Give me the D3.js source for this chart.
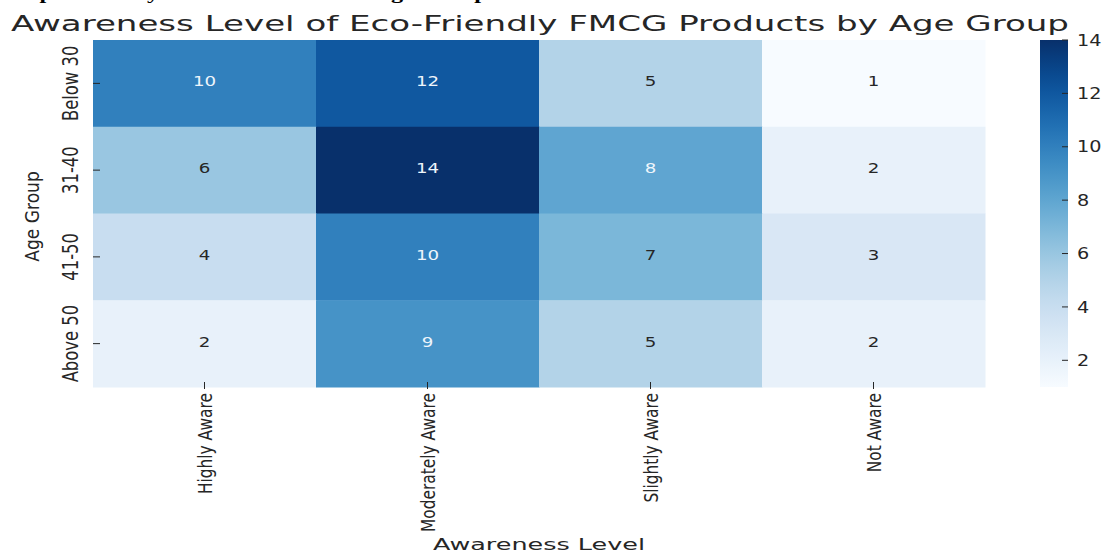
<!DOCTYPE html>
<html>
<head>
<meta charset="utf-8">
<script src="https://cdn.jsdelivr.net/npm/d3@7"></script>
<style>
  html, body { margin: 0; padding: 0; background: #ffffff; }
  svg { display: block; }
</style>
</head>
<body>
<svg id="chart" width="1108" height="554"></svg>
<script>
// ---------------- data ----------------
const ageGroups = ["Below 30", "31-40", "41-50", "Above 50"];
const awarenessLevels = ["Highly Aware", "Moderately Aware", "Slightly Aware", "Not Aware"];
const below30 = [10, 12, 5, 1];
const age31to40 = [6, 14, 8, 2];
const age41to50 = [4, 10, 7, 3];
const above50 = [2, 9, 5, 2];
const colorbarTicks = [2, 4, 6, 8, 10, 12, 14];
const titleText = "Awareness Level of Eco-Friendly FMCG Products by Age Group";
const captionText = "Graph 1: Study of Awareness across Age Group";
const xAxisTitle = "Awareness Level";
const yAxisTitle = "Age Group";

const seriesRows = [below30, age31to40, age41to50, above50];
const cells = [];
ageGroups.forEach((g, i) => awarenessLevels.forEach((l, j) => cells.push({ age: g, level: l, value: seriesRows[i][j] })));

// ---------------- layout ----------------
const svg = d3.select("#chart");
const ink = "#262626";
const plotL = 93, plotR = 985, plotT = 40, plotB = 387;
const cbX = 1040, cbW = 28;

const x = d3.scaleBand().domain(awarenessLevels).range([plotL, plotR]);
const y = d3.scaleBand().domain(ageGroups).range([plotT, plotB]);
const allVals = cells.map(d => d.value);
const vmin = d3.min(allVals), vmax = d3.max(allVals);
const color = d3.scaleSequential(d3.interpolateBlues).domain([vmin, vmax]);

function squeeze(sel, ratio) {
  sel.each(function () {
    const l = this.getComputedTextLength();
    this.setAttribute("textLength", l * ratio);
    this.setAttribute("lengthAdjust", "spacingAndGlyphs");
  });
}

// cropped caption at the very top (only its descenders show in the reference)
const cap = svg.append("text")
  .attr("x", -2).attr("y", -1)
  .attr("font-family", "Liberation Serif, Times New Roman, serif")
  .attr("font-weight", "bold").attr("font-size", 17).attr("fill", "#000")
  .text(captionText);
squeeze(cap, 1.42);

// title
svg.append("text")
  .attr("x", 11).attr("y", 31)
  .attr("font-family", "DejaVu Sans, sans-serif")
  .attr("font-size", 22).attr("fill", ink)
  .attr("textLength", 1058).attr("lengthAdjust", "spacingAndGlyphs")
  .text(titleText);

// cells
svg.append("g").selectAll("rect").data(cells).join("rect")
  .attr("x", d => x(d.level)).attr("y", d => y(d.age))
  .attr("width", x.bandwidth() + 0.5).attr("height", y.bandwidth() + 0.5)
  .attr("fill", d => color(d.value));

// annotations
function lum(c) {
  const rgb = d3.rgb(c);
  const f = v => { v /= 255; return v <= 0.03928 ? v / 12.92 : Math.pow((v + 0.055) / 1.055, 2.4); };
  return 0.2126 * f(rgb.r) + 0.7152 * f(rgb.g) + 0.0722 * f(rgb.b);
}
const ann = svg.append("g").selectAll("text").data(cells).join("text")
  .attr("x", d => x(d.level) + x.bandwidth() / 2)
  .attr("y", d => y(d.age) + y.bandwidth() / 2 - 2)
  .attr("dy", "0.35em")
  .attr("text-anchor", "middle")
  .attr("font-family", "DejaVu Sans, sans-serif")
  .attr("font-size", 14)
  .attr("fill", d => lum(color(d.value)) < 0.408 ? "#eef5fb" : ink)
  .text(d => d.value);
squeeze(ann, 1.3);

// y ticks & labels
const yg = svg.append("g");
yg.selectAll("line").data(ageGroups).join("line")
  .attr("x1", plotL).attr("x2", plotL + 7)
  .attr("y1", d => y(d) + y.bandwidth() / 2).attr("y2", d => y(d) + y.bandwidth() / 2)
  .attr("stroke", ink).attr("stroke-width", 1);
const ylab = yg.selectAll("text").data(ageGroups).join("text")
  .attr("transform", d => `translate(78,${y(d) + y.bandwidth() / 2}) rotate(-90)`)
  .attr("text-anchor", "middle")
  .attr("font-family", "DejaVu Sans, sans-serif")
  .attr("font-size", 21).attr("fill", ink)
  .text(d => d);
squeeze(ylab, 0.78);

const yt = svg.append("text")
  .attr("transform", `translate(39,${(plotT + plotB) / 2 + 3}) rotate(-90)`)
  .attr("text-anchor", "middle")
  .attr("font-family", "DejaVu Sans, sans-serif")
  .attr("font-size", 19).attr("fill", ink)
  .text(yAxisTitle);
squeeze(yt, 0.9);

// x ticks & labels
const xg = svg.append("g");
xg.selectAll("line").data(awarenessLevels).join("line")
  .attr("x1", d => x(d) + x.bandwidth() / 2).attr("x2", d => x(d) + x.bandwidth() / 2)
  .attr("y1", plotB - 5).attr("y2", plotB + 2)
  .attr("stroke", ink).attr("stroke-width", 1);
const xlab = xg.selectAll("text").data(awarenessLevels).join("text")
  .attr("transform", d => `translate(${x(d) + x.bandwidth() / 2 + 7},393) rotate(-90)`)
  .attr("text-anchor", "end")
  .attr("font-family", "DejaVu Sans, sans-serif")
  .attr("font-size", 20).attr("fill", ink)
  .text(d => d);
squeeze(xlab, 0.77);

svg.append("text")
  .attr("x", (plotL + plotR) / 2).attr("y", 550)
  .attr("text-anchor", "middle")
  .attr("font-family", "DejaVu Sans, sans-serif")
  .attr("font-size", 16).attr("fill", ink)
  .attr("textLength", 212).attr("lengthAdjust", "spacingAndGlyphs")
  .text(xAxisTitle);

// colorbar
const cy = d3.scaleLinear().domain([vmin, vmax]).range([plotB, plotT]);
const defs = svg.append("defs");
const grad = defs.append("linearGradient").attr("id", "cbgrad")
  .attr("x1", 0).attr("y1", 1).attr("x2", 0).attr("y2", 0);
d3.range(0, 1.0001, 0.05).forEach(t => {
  grad.append("stop").attr("offset", t).attr("stop-color", d3.interpolateBlues(t));
});
svg.append("rect")
  .attr("x", cbX).attr("y", plotT).attr("width", cbW).attr("height", plotB - plotT)
  .attr("fill", "url(#cbgrad)");
const cbg = svg.append("g");
cbg.selectAll("line").data(colorbarTicks).join("line")
  .attr("x1", cbX + cbW - 6).attr("x2", cbX + cbW)
  .attr("y1", d => cy(d)).attr("y2", d => cy(d))
  .attr("stroke", ink).attr("stroke-width", 1);
const cbl = cbg.selectAll("text").data(colorbarTicks).join("text")
  .attr("x", 1077).attr("y", d => cy(d)).attr("dy", "0.35em")
  .attr("font-family", "DejaVu Sans, sans-serif")
  .attr("font-size", 16).attr("fill", ink)
  .text(d => d);
squeeze(cbl, 1.2);
</script>
</body>
</html>
